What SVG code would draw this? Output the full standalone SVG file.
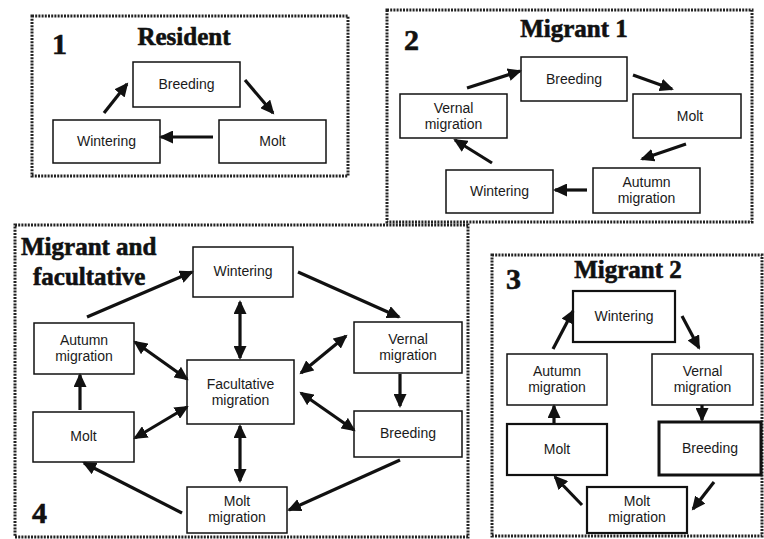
<svg xmlns="http://www.w3.org/2000/svg" width="764" height="539" viewBox="0 0 764 539">
<defs>
<marker id="ah" markerUnits="userSpaceOnUse" markerWidth="15" markerHeight="13" refX="12" refY="6.5" orient="auto-start-reverse">
<path d="M0,0 L14,6.5 L0,13 z" fill="#111"/>
</marker>
<style>
.frame{fill:none;stroke:#222;stroke-width:3;stroke-dasharray:2 1.2}
.box{fill:#fff;stroke:#111;stroke-width:1.5}
.box2{fill:#fff;stroke:#111;stroke-width:2.2}
.box3{fill:#fff;stroke:#111;stroke-width:3}
.lbl{font-family:"Liberation Sans",Arial,sans-serif;font-size:14px;fill:#1a1a1a;text-anchor:middle}
.ttl{font-family:"Liberation Serif","Times New Roman",serif;font-weight:bold;font-size:25px;fill:#111;stroke:#111;stroke-width:0.6}
.num{font-family:"Liberation Serif","Times New Roman",serif;font-weight:bold;font-size:30px;fill:#111;stroke:#111;stroke-width:0.6}
.ar{stroke:#111;stroke-width:3.2;fill:none;marker-end:url(#ah)}
.ar2{stroke:#111;stroke-width:3.2;fill:none;marker-end:url(#ah);marker-start:url(#ah)}
</style>
</defs>
<rect width="764" height="539" fill="#fff"/>

<!-- Panel 1 -->
<g id="panel1">
<rect class="frame" x="32" y="16" width="316" height="160"/>
<text class="num" x="52" y="54">1</text>
<text class="ttl" x="184" y="45" text-anchor="middle">Resident</text>
</g>
<g id="p1-breeding"><rect class="box" x="133" y="62" width="107" height="45"/><text class="lbl" x="186.5" y="89">Breeding</text></g>
<g id="p1-wintering"><rect class="box" x="53" y="120" width="107" height="43"/><text class="lbl" x="106.5" y="146">Wintering</text></g>
<g id="p1-molt"><rect class="box" x="219" y="120" width="107" height="43"/><text class="lbl" x="272.5" y="146">Molt</text></g>

<!-- Panel 2 -->
<g id="panel2">
<rect class="frame" x="387" y="10" width="365" height="212"/>
<text class="num" x="404" y="50">2</text>
<text class="ttl" x="574" y="37" text-anchor="middle">Migrant 1</text>
</g>
<g id="p2-breeding"><rect class="box" x="521" y="57" width="106" height="44"/><text class="lbl" x="574" y="84">Breeding</text></g>
<g id="p2-vernal"><rect class="box" x="400" y="94" width="107" height="44"/><text class="lbl" x="453.5" y="113">Vernal</text><text class="lbl" x="453.5" y="129">migration</text></g>
<g id="p2-molt"><rect class="box" x="633" y="94" width="108" height="44"/><text class="lbl" x="690" y="121">Molt</text></g>
<g id="p2-wintering"><rect class="box" x="446" y="170" width="107" height="43"/><text class="lbl" x="499.5" y="196">Wintering</text></g>
<g id="p2-autumn"><rect class="box" x="593" y="168" width="107" height="45"/><text class="lbl" x="646.5" y="187">Autumn</text><text class="lbl" x="646.5" y="203">migration</text></g>

<!-- Panel 4 -->
<g id="panel4">
<rect class="frame" x="15" y="225" width="453" height="312"/>
<text class="ttl" x="21" y="255" font-size="26">Migrant and</text>
<text class="ttl" x="33" y="285" font-size="26">facultative</text>
<text class="num" x="32" y="523" font-size="28">4</text>
</g>
<g id="p4-wintering"><rect class="box" x="193" y="247" width="100" height="50"/><text class="lbl" x="243" y="276">Wintering</text></g>
<g id="p4-autumn"><rect class="box" x="34" y="323" width="100" height="51"/><text class="lbl" x="84" y="345">Autumn</text><text class="lbl" x="84" y="361">migration</text></g>
<g id="p4-facultative"><rect class="box" x="187" y="360" width="107" height="64"/><text class="lbl" x="240.5" y="389">Facultative</text><text class="lbl" x="240.5" y="405">migration</text></g>
<g id="p4-vernal"><rect class="box" x="354" y="322" width="108" height="51"/><text class="lbl" x="408" y="344">Vernal</text><text class="lbl" x="408" y="360">migration</text></g>
<g id="p4-molt"><rect class="box" x="33" y="412" width="101" height="50"/><text class="lbl" x="83.5" y="441">Molt</text></g>
<g id="p4-breeding"><rect class="box" x="354" y="411" width="108" height="46"/><text class="lbl" x="408" y="438">Breeding</text></g>
<g id="p4-moltmig"><rect class="box" x="187" y="487" width="100" height="46"/><text class="lbl" x="237" y="506">Molt</text><text class="lbl" x="237" y="522">migration</text></g>

<!-- Panel 3 -->
<g id="panel3">
<rect class="frame" x="492" y="255" width="270" height="281"/>
<text class="num" x="506" y="289">3</text>
<text class="ttl" x="628" y="278" text-anchor="middle">Migrant 2</text>
</g>
<g id="p3-wintering"><rect class="box2" x="573" y="291" width="102" height="51"/><text class="lbl" x="624" y="321">Wintering</text></g>
<g id="p3-autumn"><rect class="box" x="507" y="354" width="100" height="51"/><text class="lbl" x="557" y="376">Autumn</text><text class="lbl" x="557" y="392">migration</text></g>
<g id="p3-vernal"><rect class="box" x="652" y="354" width="101" height="51"/><text class="lbl" x="702.5" y="376">Vernal</text><text class="lbl" x="702.5" y="392">migration</text></g>
<g id="p3-molt"><rect class="box2" x="507" y="424" width="100" height="51"/><text class="lbl" x="557" y="454">Molt</text></g>
<g id="p3-breeding"><rect class="box3" x="659" y="422" width="102" height="53"/><text class="lbl" x="710" y="453">Breeding</text></g>
<g id="p3-moltmig"><rect class="box2" x="587" y="487" width="100" height="46"/><text class="lbl" x="637" y="506">Molt</text><text class="lbl" x="637" y="522">migration</text></g>

<g id="connectors">
<!-- panel 1 -->
<line class="ar" x1="104" y1="113" x2="127" y2="84"/>
<line class="ar" x1="245" y1="80" x2="273" y2="113"/>
<line class="ar" x1="213" y1="137" x2="161" y2="137"/>
<!-- panel 2 -->
<line class="ar" x1="467" y1="88" x2="520" y2="71"/>
<line class="ar" x1="633" y1="75" x2="672" y2="89"/>
<line class="ar" x1="686" y1="144" x2="642" y2="159"/>
<line class="ar" x1="587" y1="190" x2="555" y2="190"/>
<line class="ar" x1="492" y1="163" x2="455" y2="140"/>
<!-- panel 4 -->
<line class="ar" x1="87" y1="317" x2="192" y2="272"/>
<line class="ar" x1="298" y1="272" x2="399" y2="317"/>
<line class="ar2" x1="240" y1="302" x2="240" y2="358"/>
<line class="ar2" x1="135" y1="342" x2="187" y2="379"/>
<line class="ar2" x1="301" y1="373" x2="346" y2="336"/>
<line class="ar2" x1="301" y1="393" x2="354" y2="430"/>
<line class="ar" x1="80" y1="410" x2="80" y2="375"/>
<line class="ar2" x1="135" y1="438" x2="187" y2="407"/>
<line class="ar" x1="400" y1="374" x2="400" y2="406"/>
<line class="ar2" x1="240" y1="426" x2="240" y2="481"/>
<line class="ar" x1="400" y1="460" x2="289" y2="510"/>
<line class="ar" x1="182" y1="513" x2="84" y2="463"/>
<!-- panel 3 -->
<line class="ar" x1="553" y1="349" x2="573" y2="311"/>
<line class="ar" x1="682" y1="316" x2="699" y2="348"/>
<line class="ar" x1="702" y1="405" x2="702" y2="420"/>
<line class="ar" x1="714" y1="482" x2="693" y2="509"/>
<line class="ar" x1="582" y1="505" x2="555" y2="477"/>
<line class="ar" x1="554" y1="423" x2="554" y2="406"/>
</g>
</svg>
